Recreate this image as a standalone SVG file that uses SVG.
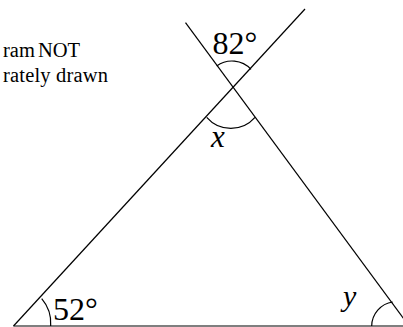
<svg xmlns="http://www.w3.org/2000/svg" width="403" height="327" viewBox="0 0 403 327">
<style>
.ln{stroke:#000;stroke-width:1.2;fill:none}
.arc{stroke:#000;stroke-width:1.2;fill:none}
text{font-family:'Liberation Serif','Times New Roman','DejaVu Serif',serif;fill:#000}
.it{font-style:italic}
</style>
<rect width="403" height="327" fill="#fff"/>
<g id="connectors">
<line class="ln" x1="13.5" y1="326" x2="305" y2="9"/>
<line class="ln" x1="185.5" y1="22.7" x2="409" y2="326"/>
<line class="ln" x1="13.5" y1="326" x2="410" y2="326"/>
</g>
<g id="angle-82">
<path class="arc" d="M216.7 66 A26 26 0 0 1 251 69.3"/>
<text x="212.5" y="54" font-size="32">82°</text>
</g>
<g id="angle-x">
<path class="arc" d="M206.7 117.3 A32 32 0 0 0 255 117.3"/>
<text class="it" x="211" y="146.5" font-size="31">x</text>
</g>
<g id="angle-52">
<path class="arc" d="M41.7 298.7 A38 38 0 0 1 50.7 326"/>
<text x="53" y="320.3" font-size="32">52°</text>
</g>
<g id="angle-y">
<path class="arc" d="M371.7 326 A24.5 24.5 0 0 1 392.7 302"/>
<text class="it" x="343" y="306" font-size="30">y</text>
</g>
<g id="note">
<text x="3" y="57.3" font-size="20.5" word-spacing="-2">ram NOT</text>
<text x="3" y="82.3" font-size="20.5" textLength="105">rately drawn</text>
</g>
</svg>
